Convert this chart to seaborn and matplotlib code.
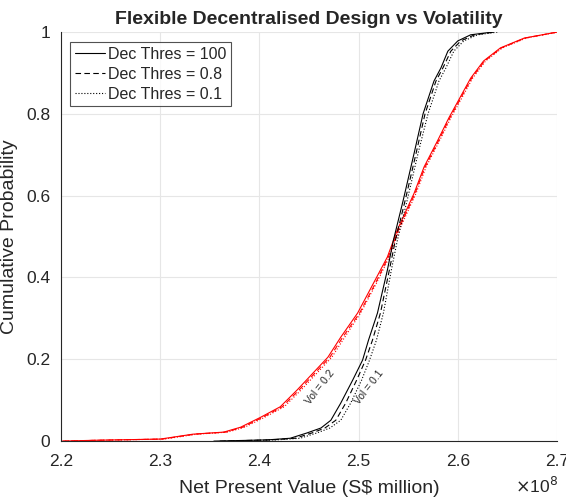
import matplotlib
matplotlib.use('Agg')
import matplotlib.pyplot as plt
import seaborn as sns
import numpy as np
import pandas as pd

sns.set_style('white')
plt.rcParams['font.family'] = ['Liberation Sans', 'DejaVu Sans']

# NPV values in units of 1e8 S$ at given cumulative probabilities
prob_vol01 = [0, 0.003, 0.007, 0.02, 0.032, 0.051, 0.093, 0.149, 0.198, 0.247, 0.313,
              0.418, 0.49, 0.589, 0.704, 0.80, 0.88, 0.912, 0.953, 0.978, 0.993, 1.0]
npv_vol01_thr100 = [2.354, 2.408, 2.431, 2.448, 2.462, 2.472, 2.482, 2.494, 2.504, 2.510, 2.519,
                    2.529, 2.535, 2.545, 2.556, 2.565, 2.576, 2.583, 2.590, 2.600, 2.613, 2.636]
npv_vol01_thr08 = [2.360, 2.412, 2.436, 2.453, 2.466, 2.477, 2.487, 2.498, 2.507, 2.514, 2.522,
                   2.531, 2.537, 2.547, 2.558, 2.567, 2.578, 2.585, 2.593, 2.603, 2.617, 2.638]
npv_vol01_thr01 = [2.365, 2.417, 2.441, 2.458, 2.471, 2.482, 2.492, 2.503, 2.511, 2.518, 2.525,
                   2.533, 2.539, 2.549, 2.560, 2.570, 2.581, 2.588, 2.596, 2.606, 2.620, 2.641]

prob_vol02 = [0, 0.002, 0.005, 0.017, 0.022, 0.034, 0.058, 0.084, 0.125, 0.205, 0.254, 0.313,
              0.386, 0.45, 0.516, 0.606, 0.67, 0.736, 0.79, 0.834, 0.887, 0.929, 0.961, 0.985, 1.0]
npv_vol02_thr100 = [2.200, 2.233, 2.300, 2.333, 2.364, 2.381, 2.401, 2.421, 2.438, 2.469, 2.482, 2.499,
                    2.515, 2.529, 2.539, 2.556, 2.566, 2.580, 2.591, 2.601, 2.613, 2.626, 2.643, 2.667, 2.701]
npv_vol02_thr08 = [2.202, 2.236, 2.302, 2.335, 2.366, 2.383, 2.403, 2.423, 2.440, 2.471, 2.484, 2.501,
                   2.517, 2.530, 2.540, 2.557, 2.567, 2.581, 2.592, 2.602, 2.614, 2.627, 2.644, 2.668, 2.701]
npv_vol02_thr01 = [2.204, 2.238, 2.304, 2.337, 2.368, 2.385, 2.405, 2.425, 2.442, 2.473, 2.486, 2.502,
                   2.518, 2.531, 2.541, 2.558, 2.568, 2.582, 2.593, 2.603, 2.615, 2.628, 2.645, 2.669, 2.702]

legend_labels = ['Dec Thres = 100', 'Dec Thres = 0.8', 'Dec Thres = 0.1']
line_styles = ['-', (0, (5, 3)), ':']

fig = plt.figure(figsize=(5.66, 4.99), dpi=100)
ax = fig.add_axes([0.108, 0.116, 0.876, 0.82])

# red curves (vol = 0.2) drawn first, not in legend
for npv, ls in zip([npv_vol02_thr100, npv_vol02_thr08, npv_vol02_thr01], line_styles):
    sns.lineplot(x=npv, y=prob_vol02, ax=ax, color='red', linestyle=ls, lw=0.8,
                 sort=False, estimator=None, legend=False)

# black curves (vol = 0.1)
for npv, ls, lab in zip([npv_vol01_thr100, npv_vol01_thr08, npv_vol01_thr01], line_styles, legend_labels):
    sns.lineplot(x=npv, y=prob_vol01, ax=ax, color='black', linestyle=ls, lw=0.8,
                 sort=False, estimator=None, label=lab)

ax.set_xlim(2.2, 2.7)
ax.set_ylim(0, 1)
ax.set_xticks([2.2, 2.3, 2.4, 2.5, 2.6, 2.7])
ax.set_xticklabels(['2.2', '2.3', '2.4', '2.5', '2.6', '2.7'])
ax.set_yticks([0, 0.2, 0.4, 0.6, 0.8, 1])
ax.set_yticklabels(['0', '0.2', '0.4', '0.6', '0.8', '1'])
ax.tick_params(direction='in', length=3, labelsize=12.5, colors='#262626')
ax.tick_params(axis='x', pad=9)
ax.tick_params(axis='y', pad=8)
ax.grid(True, color='#e6e6e6', lw=0.8)
ax.set_axisbelow(True)
for s in ['top', 'right']:
    ax.spines[s].set_visible(False)
for s in ['left', 'bottom']:
    ax.spines[s].set_color('#262626')
    ax.spines[s].set_linewidth(0.8)

ax.set_title('Flexible Decentralised Design vs Volatility', fontsize=14, fontweight='bold', pad=6)
ax.set_xlabel('Net Present Value (S$ million)', fontsize=14, color='#262626', labelpad=8)
ax.set_ylabel('Cumulative Probability', fontsize=14, color='#262626', labelpad=6)
ax.text(1.003, -0.11, r'$\times$10$^{8}$', transform=ax.transAxes, ha='right', va='center',
        fontsize=12.5, color='#262626')

ax.text(2.4616, 0.132, 'Vol = 0.2', rotation=52, fontsize=7.5, ha='center', va='center', color='#262626')
ax.text(2.511, 0.132, 'Vol = 0.1', rotation=52, fontsize=7.5, ha='center', va='center', color='#262626')

leg = ax.legend(loc='upper left', fontsize=11.5, frameon=True, fancybox=False, edgecolor='#262626',
                handlelength=1.9, borderpad=0.3, labelspacing=0.3, handletextpad=0.15,
                borderaxespad=0, bbox_to_anchor=(0.018, 0.975))
leg.get_frame().set_linewidth(0.8)

fig.savefig('out.png', dpi=100)
